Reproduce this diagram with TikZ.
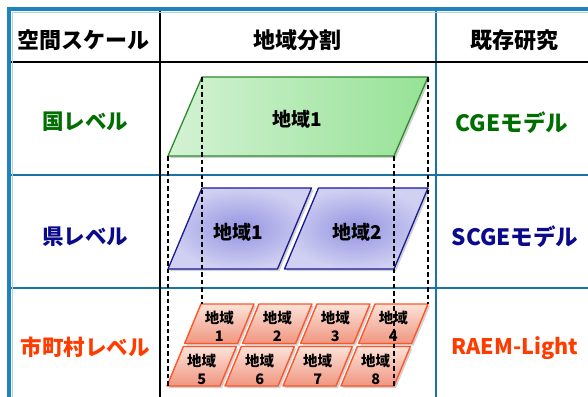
\documentclass[tikz,border=0pt]{standalone}
\usepackage{fontspec}
\newfontfamily\jp{Noto Sans CJK JP}
\definecolor{framebl}{RGB}{30,130,190}
\definecolor{rowbl}{RGB}{25,115,165}
\definecolor{txtgreen}{RGB}{0,110,0}
\definecolor{txtblue}{RGB}{10,10,140}
\definecolor{txtorange}{RGB}{255,60,0}
\definecolor{grnL}{RGB}{212,242,212}
\definecolor{grnR}{RGB}{150,226,150}
\definecolor{grnE}{RGB}{45,140,45}
\definecolor{bluIn}{RGB}{148,148,226}
\definecolor{bluOut}{RGB}{208,208,242}
\definecolor{bluE}{RGB}{25,25,150}
\definecolor{orT}{RGB}{252,226,216}
\definecolor{orB}{RGB}{240,150,128}
\definecolor{orE}{RGB}{255,85,40}
\begin{document}
\begin{tikzpicture}[x=1pt,y=-1pt,
  hdr/.style={font=\jp\bfseries\fontsize{22}{26}\selectfont, inner sep=0pt},
  lvl/.style={font=\jp\bfseries\fontsize{21.5}{25}\selectfont, inner sep=0pt},
  mdl/.style={font=\jp\bfseries\fontsize{22.5}{26}\selectfont, inner sep=0pt},
  rgn/.style={font=\jp\bfseries\fontsize{19}{22}\selectfont, inner sep=0pt},
  celltxt/.style={font=\jp\bfseries\fontsize{14.5}{18}\selectfont, inner sep=0pt, align=center},
  shadowfill/.style={fill=black, opacity=0.18},
  cellline/.style={draw=orE, line width=1.4pt, line join=round},
  guide/.style={draw=black, line width=1.3pt, dash pattern=on 4.5pt off 3pt}]
\clip (0,0) rectangle (588,396);
\fill[white] (0,0) rectangle (588,396);

% ---- table grid ----
\draw[rowbl, line width=2pt] (9,175) -- (600,175);
\draw[rowbl, line width=2pt] (9,288) -- (600,288);
\draw[rowbl, line width=1.6pt] (436,9) -- (436,400);
\draw[black, line width=2.8pt] (9,62) -- (600,62);
\draw[black, line width=2.8pt] (160,9) -- (160,400);
\draw[framebl, line width=4pt] (9,420) -- (9,9) -- (600,9);
\draw[framebl!35, line width=1pt] (12.5,420) -- (12.5,12.5) -- (600,12.5);

% ---- header ----
\node[hdr] (h1) at (83,40) {空間スケール};
\node[hdr] (h2) at (297,40) {地域分割};
\node[hdr] (h3) at (514,40) {既存研究};

% ---- level labels ----
\node[lvl, text=txtgreen] (l1) at (85,122) {国レベル};
\node[lvl, text=txtblue] (l2) at (85,237) {県レベル};
\node[lvl, text=txtorange] (l3) at (85,347) {市町村レベル};
\node[mdl, text=txtgreen] (m1) at (512,123) {CGEモデル};
\node[mdl, text=txtblue] (m2) at (515,237) {SCGEモデル};
\node[lvl, text=txtorange] (m3) at (515,348) {RAEM-Light};

% ---- national shape ----
\fill[shadowfill] (204,79) -- (430,79) -- (396,158) -- (170,158) -- cycle;
\shade[left color=grnL, right color=grnR] (202,77) -- (428,77) -- (394,156) -- (168,156) -- cycle;
\draw[grnE, line width=1.3pt, line join=round] (202,77) -- (428,77) -- (394,156) -- (168,156) -- cycle;
\node[rgn] (g1) at (297,119) {地域1};

% ---- prefecture shapes ----
\fill[shadowfill] (204,190) -- (313.5,190) -- (279.5,271) -- (170,271) -- cycle;
\fill[shadowfill] (320.5,190) -- (430,190) -- (396,271) -- (286.5,271) -- cycle;
\shade[inner color=bluIn, outer color=bluOut] (202,188) -- (311.5,188) -- (277.5,269) -- (168,269) -- cycle;
\shade[inner color=bluIn, outer color=bluOut] (318.5,188) -- (428,188) -- (394,269) -- (284.5,269) -- cycle;
\draw[bluE, line width=1.3pt, line join=round] (202,188) -- (311.5,188) -- (277.5,269) -- (168,269) -- cycle;
\draw[bluE, line width=1.3pt, line join=round] (318.5,188) -- (428,188) -- (394,269) -- (284.5,269) -- cycle;
\node[rgn] (b1) at (238,232) {地域1};
\node[rgn] (b2) at (357,232) {地域2};

% ---- municipal cells ----
\foreach \r in {0,1} {
  \foreach \c in {0,1,2,3} {
    \pgfmathsetmacro\yt{304+\r*42.5}
    \pgfmathsetmacro\yb{\yt+39.5}
    \pgfmathsetmacro\xtl{201+\c*58-(\yt-304)*0.4146}
    \pgfmathsetmacro\xtr{\xtl+53}
    \pgfmathsetmacro\xbl{\xtl-39.5*0.4146}
    \pgfmathsetmacro\xbr{\xbl+53}
    \pgfmathsetmacro\xm{(\xtl+\xbr)/2}
    \pgfmathsetmacro\ym{(\yt+\yb)/2+3}
    \pgfmathtruncatemacro\n{\r*4+\c+1}
    \fill[shadowfill] (\xtl+2,\yt+2) -- (\xtr+2,\yt+2) -- (\xbr+2,\yb+2) -- (\xbl+2,\yb+2) -- cycle;
    \shade[top color=orT, bottom color=orB] (\xtl,\yt) -- (\xtr,\yt) -- (\xbr,\yb) -- (\xbl,\yb) -- cycle;
    \draw[cellline] (\xtl,\yt) -- (\xtr,\yt) -- (\xbr,\yb) -- (\xbl,\yb) -- cycle;
    \node[celltxt] (c\n) at (\xm,\ym) {地域\\\n};
  }
}

% ---- projection guides ----
\coordinate (gtl) at (202,77);
\coordinate (gtr) at (428,77);
\coordinate (gbl) at (168,156);
\coordinate (gbr) at (394,156);
\coordinate (otl) at (202,304);
\coordinate (otr) at (428,304);
\coordinate (obl) at (168,386);
\coordinate (obr) at (394,386);
\draw[guide] (gtl) -- (otl);
\draw[guide] (gtr) -- (otr);
\draw[guide] (gbl) -- (obl);
\draw[guide] (gbr) -- (obr);
\end{tikzpicture}
\end{document}
